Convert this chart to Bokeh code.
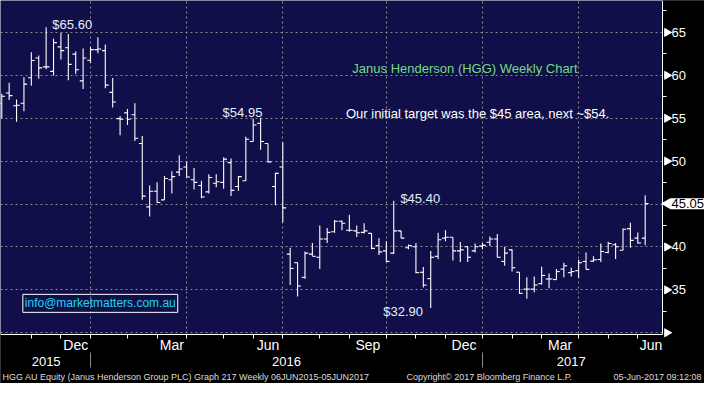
import math
import pandas as pd
from bokeh.plotting import figure
from bokeh.models import Range1d, FixedTicker, Label, LinearAxis
from bokeh.embed import file_html
from bokeh.resources import INLINE

# ---------------- data (weekly OHLC, HGG AU) ----------------
first_week = "2015-10-09"
opens = [56.75, 57.94, 56.45, 56.75, 59.72, 62.02, 60.98, 60.46, 63.32, 63.21, 62.47, 59.35,
         61.76, 62.99, 62.88, 58.01, 54.96, 55.63, 55.41, 52.06, 44.67, 46.49, 45.49, 47.83,
         48.72, 49.31, 47.83, 47.16, 46.42, 47.42, 47.53, 49.83, 47.05, 47.72, 52.29, 54.40,
         52.06, 47.05, 49.31, 39.17, 38.17, 36.46, 39.17, 38.80, 40.92, 41.77, 42.99, 41.95,
         41.88, 41.70, 41.58, 40.17, 39.54, 39.28, 41.88, 39.91, 40.02, 37.05, 36.31, 38.91,
         41.03, 41.14, 39.55, 40.03, 39.55, 40.10, 40.55, 40.92, 38.32, 39.66, 37.06, 35.09,
         35.09, 35.72, 36.27, 36.20, 37.42, 37.01, 37.24, 38.31, 38.35, 38.54, 39.35, 40.25,
         39.61, 42.14, 41.03, 41.03]
highs = [57.86, 59.13, 57.19, 59.79, 62.69, 62.32, 65.60, 64.25, 64.92, 64.81, 62.77, 63.14,
         63.32, 64.44, 63.58, 59.68, 55.26, 56.08, 56.75, 52.92, 47.16, 47.53, 48.27, 48.83,
         50.69, 49.95, 49.20, 47.72, 48.46, 48.46, 50.43, 50.32, 48.27, 52.84, 54.95, 55.04,
         52.06, 48.65, 52.17, 39.91, 38.17, 39.47, 40.47, 42.51, 42.20, 43.15, 43.07, 43.74,
         42.50, 42.77, 41.58, 41.03, 40.66, 45.40, 41.88, 40.28, 40.47, 37.68, 39.54, 41.66,
         41.96, 41.14, 40.59, 40.10, 40.40, 40.47, 41.22, 41.51, 40.03, 39.73, 37.06, 36.46,
         36.57, 37.69, 36.90, 37.42, 38.17, 37.57, 38.50, 39.35, 38.91, 40.40, 40.62, 40.47,
         42.14, 42.81, 41.70, 46.04]
lows = [54.96, 57.12, 54.59, 55.82, 58.79, 59.61, 60.72, 59.98, 61.84, 59.42, 60.17, 58.42,
        61.47, 62.58, 58.49, 56.26, 53.03, 54.22, 52.36, 45.49, 43.55, 45.11, 45.49, 46.23,
        48.27, 48.09, 46.71, 45.67, 46.23, 46.97, 46.79, 45.93, 46.56, 47.72, 52.29, 51.32,
        49.83, 44.85, 42.88, 35.56, 34.23, 36.31, 38.98, 37.42, 40.47, 41.66, 41.96, 41.77,
        41.15, 41.58, 39.73, 39.06, 38.24, 39.17, 41.03, 39.73, 36.94, 35.27, 32.90, 38.61,
        40.66, 38.43, 38.24, 38.24, 39.36, 39.73, 40.10, 38.80, 37.80, 37.13, 34.53, 33.97,
        34.71, 35.64, 35.20, 36.20, 36.46, 36.57, 36.38, 37.38, 38.24, 38.24, 39.28, 38.61,
        39.61, 39.91, 40.40, 40.21]
closes = [57.56, 57.64, 56.52, 58.98, 61.73, 60.87, 60.98, 63.81, 62.88, 61.28, 60.65, 62.02,
          62.99, 63.06, 58.86, 56.89, 54.89, 54.89, 52.66, 45.93, 46.49, 45.19, 47.98, 48.20,
          49.09, 48.16, 47.53, 45.82, 48.09, 47.60, 50.24, 46.60, 48.20, 52.55, 54.22, 52.29,
          49.91, 48.57, 44.56, 37.50, 35.45, 39.28, 38.91, 40.92, 41.70, 43.00, 42.77, 41.95,
          41.66, 41.88, 39.84, 39.43, 38.31, 41.88, 41.03, 40.17, 37.01, 35.56, 38.80, 40.84,
          41.14, 39.55, 39.66, 38.80, 40.03, 40.18, 40.92, 38.80, 39.28, 37.58, 34.60, 35.09,
          35.57, 36.68, 36.27, 37.13, 37.80, 37.13, 38.17, 37.38, 38.50, 39.47, 40.40, 40.02,
          42.07, 40.77, 40.47, 45.05]
last_price = 45.05
grid_prices = [30, 35, 40, 45, 50, 55, 60, 65]
labelled_prices = [35, 40, 50, 55, 60, 65]
minor_prices = [32.5, 37.5, 42.5, 47.5, 52.5, 57.5, 62.5, 67.5]
label_months = ["Dec", "Mar", "Jun", "Sep"]

title_text = "Janus Henderson (HGG) Weekly Chart"
note_text = "Our initial target was the $45 area, next ~$54."
email_text = "info@marketmatters.com.au"
footer_left = "HGG AU Equity (Janus Henderson Group PLC) Graph 217  Weekly 06JUN2015-05JUN2017"
footer_mid = "Copyright\u00a9 2017 Bloomberg Finance L.P."
footer_right = "05-Jun-2017 09:12:08"

# ---------------- layout / styling ----------------
NAVY = "#100f49"
GRID = "#8c8c8c"
FONT = "Liberation Sans"
W, H = 704, 383
CW, CH = 662, 334          # chart (price area) size in px
x_start, x_end = -0.17, 89.34
y_lo, y_hi = 29.8, 68.72
ppx = CW / (x_end - x_start)
ppy = CH / (y_hi - y_lo)
x_ext = x_end + (W - CW) / ppx
y_min = y_lo - (H - CH) / ppy

n = len(closes)
xs = list(range(n))
dates = pd.date_range(first_week, periods=n + 8, freq="W-FRI")
month_starts = [i for i in range(1, len(dates)) if dates[i].month != dates[i - 1].month]
vis_months = [i for i in month_starts if i < x_end]
quarter_starts = [i for i in vis_months if dates[i].month in (1, 4, 7, 10)]
year_starts = [i for i in vis_months if dates[i].month == 1]

p = figure(width=W, height=H, output_backend="svg", toolbar_location=None, tools="",
           x_range=Range1d(x_start, x_ext), y_range=Range1d(y_min, y_hi),
           y_axis_location="right", x_axis_location="below", min_border=0,
           background_fill_color=NAVY, border_fill_color="black", outline_line_color=None)

# grids
p.xgrid.ticker = FixedTicker(ticks=quarter_starts)
p.ygrid.ticker = FixedTicker(ticks=grid_prices)
for g in (p.xgrid, p.ygrid):
    g.grid_line_color = GRID
    g.grid_line_dash = "2 3"

# black bands for axis areas
p.quad(left=[x_end], right=[x_ext], bottom=[y_min], top=[y_hi], color="black")
p.quad(left=[x_start], right=[x_ext], bottom=[y_min], top=[y_lo], color="black")

# right price axis
ya = p.yaxis[0]
ya.fixed_location = x_end
ya.bounds = (y_lo, y_hi)
ya.ticker = FixedTicker(ticks=labelled_prices, minor_ticks=minor_prices)
ya.axis_line_color = "white"
ya.major_tick_line_color = None
ya.major_tick_in = 0
ya.major_tick_out = 8
ya.minor_tick_line_color = "white"
ya.minor_tick_in = 0
ya.minor_tick_out = 4
ya.major_label_text_color = "white"
ya.major_label_text_font = FONT
ya.major_label_text_font_size = "13px"
ya.major_label_standoff = 1

# arrow-shaped major ticks
tri_prices = [v for v in grid_prices if v != 45]
p.scatter(x=[x_end + 4.5 / ppx] * len(tri_prices), y=tri_prices, marker="triangle",
          size=8, angle=-math.pi / 2, color="white")

# bottom axis line with month-start ticks
xa = p.xaxis[0]
xa.fixed_location = y_lo
xa.bounds = (x_start, x_end)
xa.ticker = FixedTicker(ticks=[], minor_ticks=vis_months)
xa.axis_line_color = "white"
xa.major_tick_line_color = None
xa.major_tick_in = 0
xa.major_tick_out = 0
xa.minor_tick_line_color = "white"
xa.minor_tick_in = 0
xa.minor_tick_out = 4

# month labels
month_centers, month_names = [], []
for a, b in zip(month_starts[:-1], month_starts[1:]):
    if a >= x_end:
        break
    name = dates[a].strftime("%b")
    if name in label_months:
        month_centers.append(min((a + b) / 2, x_end - 1.55))
        month_names.append(name)

max_axis = LinearAxis(fixed_location=y_lo, bounds=(x_start, x_end),
                      ticker=FixedTicker(ticks=month_centers),
                      major_label_overrides={c: m for c, m in zip(month_centers, month_names)},
                      axis_line_color=None, major_tick_line_color=None, major_tick_in=0,
                      major_tick_out=0, minor_tick_line_color=None, minor_tick_in=0,
                      minor_tick_out=0, major_label_text_color="white",
                      major_label_text_font=FONT, major_label_text_font_size="14px",
                      major_label_standoff=2)
p.add_layout(max_axis, "below")

# year labels and separators
bounds = [x_start] + year_starts + [x_end]
year_centers, year_names = [], []
for a, b in zip(bounds[:-1], bounds[1:]):
    year_centers.append(round((a + b), 0) / 2)
    year_names.append(str(dates[max(0, math.ceil(a))].year))
y_year = y_lo - 18 / ppy
year_axis = LinearAxis(fixed_location=y_year, bounds=(x_start, x_end),
                       ticker=FixedTicker(ticks=year_centers),
                       major_label_overrides={c: t for c, t in zip(year_centers, year_names)},
                       axis_line_color=None, major_tick_line_color=None, major_tick_in=0,
                       major_tick_out=0, minor_tick_line_color=None, minor_tick_in=0,
                       minor_tick_out=0, major_label_text_color="white",
                       major_label_text_font=FONT, major_label_text_font_size="13px",
                       major_label_standoff=4)
p.add_layout(year_axis, "below")
sep_axis = LinearAxis(fixed_location=y_year, bounds=(x_start, x_end),
                      ticker=FixedTicker(ticks=[], minor_ticks=year_starts),
                      axis_line_color=None, major_tick_line_color=None, major_tick_in=0,
                      major_tick_out=0, minor_tick_line_color=GRID, minor_tick_in=0,
                      minor_tick_out=15)
p.add_layout(sep_axis, "below")

# OHLC bars
p.segment(x0=xs, y0=lows, x1=xs, y1=highs, line_color="white", line_width=1.1)
p.segment(x0=[x - 0.45 for x in xs], y0=opens, x1=xs, y1=opens, line_color="white", line_width=1.1)
p.segment(x0=xs, y0=closes, x1=[x + 0.45 for x in xs], y1=closes, line_color="white", line_width=1.1)


def lab(text, x, y, xu="data", yu="data", align="center", color="white", size="13px",
        baseline="middle", **kw):
    p.add_layout(Label(x=x, y=y, x_units=xu, y_units=yu, text=text, text_align=align,
                       text_baseline=baseline, text_color=color, text_font_size=size,
                       text_font=FONT, **kw))


# price call-outs anchored to the bars
PALE = "#e4eeff"
i_hi = highs.index(max(highs))
lab("$%.2f" % highs[i_hi], i_hi + 0.84, highs[i_hi] + 0.33, align="left", color=PALE)
i_h2 = 34
lab("$%.2f" % highs[i_h2], i_h2 - 1.45, highs[i_h2] + 0.71, color=PALE)
i_h3 = 53
lab("$%.2f" % highs[i_h3], i_h3 + 0.9, highs[i_h3] + 0.28, align="left", color=PALE)
i_lo = lows.index(min(lows[40:]))
lab("$%.2f" % lows[i_lo], i_lo - 1.05, lows[i_lo] - 0.42, align="right", color=PALE)

# commentary
lab(title_text, 62.63, 60.82, color="#74dc80")
lab(note_text, 64.35, 55.6, color="white")
lab(email_text, 2.85, 33.43, align="left", color="#1cd6ee", size="12px",
    border_line_color="white", border_line_width=1, padding=2)

# last price tag
p.scatter(x=[x_end + 5 / ppx], y=[last_price], marker="triangle", size=10,
          angle=math.pi / 2, color="white")
lab("%.2f" % last_price, CW + 8, last_price, xu="screen", align="left", color="black",
    background_fill_color="white", padding=1)

# footer
fy = H - CH - 42
lab(footer_left, 2, fy, xu="screen", yu="screen", align="left", size="9px", color="#dcdcdc")
lab(footer_mid, 406, fy, xu="screen", yu="screen", align="left", size="9px", color="#dcdcdc")
lab(footer_right, W - 3, fy, xu="screen", yu="screen", align="right", size="9px", color="#dcdcdc")

open("out.html", "w").write(file_html(p, INLINE))
